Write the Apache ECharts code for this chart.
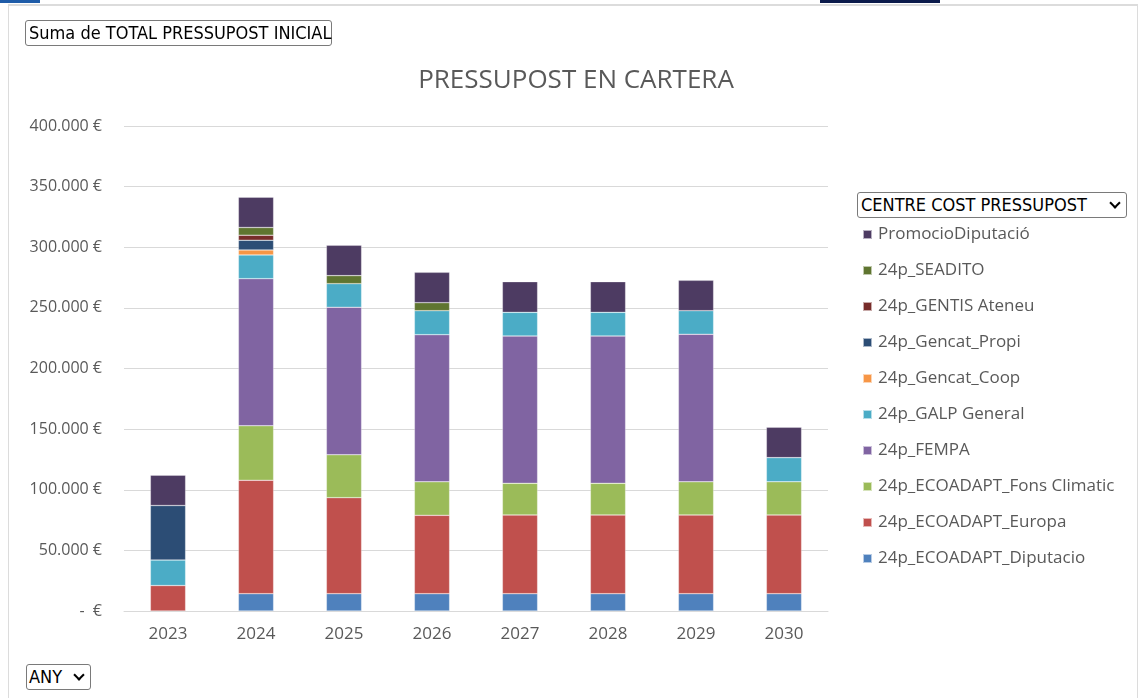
<!DOCTYPE html>
<html>
<head>
<meta charset="utf-8">
<title>PRESSUPOST EN CARTERA</title>
<script src="https://cdn.jsdelivr.net/npm/echarts@6/dist/echarts.min.js"></script>
<style>
  html, body { margin: 0; padding: 0; background: #fff; }
  body { width: 1142px; height: 698px; position: relative; overflow: hidden; font-family: "Open Sans", sans-serif; }
  .frame { position: absolute; left: 8px; top: 4px; width: 1130px; height: 700px; border: 1px solid #dcdcdc; border-top-width: 2px; box-sizing: border-box; }
  .bar-blue { position: absolute; left: 0; top: 0; width: 40px; height: 3px; background: #1f5ca8; }
  .bar-navy { position: absolute; left: 820px; top: 0; width: 120px; height: 3px; background: #0b1a4b; }
  #chart { position: absolute; left: 0; top: 0; width: 1142px; height: 698px; }
  .box { position: absolute; border: 1px solid #7a7a7a; border-radius: 3px; background: #fff; color: #000; box-sizing: border-box; white-space: nowrap;
         font-family: 'Liberation Sans Narrow', 'DejaVu Sans Condensed', 'DejaVu Sans'; font-stretch: condensed; font-size: 18px; line-height: 24px; }
  .box .chev { position: absolute; right: 7px; width: 6px; height: 6px; border-right: 2px solid #000; border-bottom: 2px solid #000; transform: rotate(45deg); top: 6px; }
</style>
</head>
<body>
<div class="frame"></div>
<div class="bar-blue"></div>
<div class="bar-navy"></div>
<div id="chart"></div>
<div class="box" style="left:25px;top:20px;width:307px;height:26px;padding-left:3px;">Suma de TOTAL PRESSUPOST INICIAL</div>
<div class="box" style="left:857px;top:192px;width:270px;height:26px;padding-left:3px;">CENTRE COST PRESSUPOST<span class="chev"></span></div>
<div class="box" style="left:26px;top:664px;width:65px;height:26px;padding-left:2px;">ANY<span class="chev"></span></div>
<script>
var years = ['2023', '2024', '2025', '2026', '2027', '2028', '2029', '2030'];

// bottom to top
var seriesNames = [
  '24p_ECOADAPT_Diputacio',
  '24p_ECOADAPT_Europa',
  '24p_ECOADAPT_Fons Climatic',
  '24p_FEMPA',
  '24p_GALP General',
  '24p_Gencat_Coop',
  '24p_Gencat_Propi',
  '24p_GENTIS Ateneu',
  '24p_SEADITO',
  'PromocioDiputació'
];
var seriesColors = ['#4f81bd', '#c0504d', '#9bbb59', '#8064a2', '#4bacc6', '#f79646', '#2c4d75', '#772c2a', '#5f7530', '#4d3b62'];

var diputacio    = [0,     14300, 14300, 14300, 14300, 14300, 14300, 14300];
var europa       = [21000, 93500, 79200, 64600, 64900, 64900, 64900, 64900];
var fonsClimatic = [0,     45000, 35400, 27700, 26100, 26100, 27400, 27400];
var fempa        = [0,    121300,121600,121300,121500,121500,121600, 0];
var galpGeneral  = [21000, 19600, 19500, 19800, 19500, 19500, 19500, 19900];
var gencatCoop   = [0,      4100, 0,     0,     0,     0,     0,     0];
var gencatPropi  = [45000,  8000, 0,     0,     0,     0,     0,     0];
var gentis       = [0,      4200, 0,     0,     0,     0,     0,     0];
var seadito      = [0,      6300,  6600,  6600, 0,     0,     0,     0];
var promocio     = [25000, 25000, 25000, 25000, 25300, 25300, 25000, 25000];

var seriesData = [diputacio, europa, fonsClimatic, fempa, galpGeneral, gencatCoop, gencatPropi, gentis, seadito, promocio];

function euro(v) {
  if (v === 0) return '-  €';
  return String(v).replace(/\B(?=(\d{3})+(?!\d))/g, '.') + ' €';
}

var chart = echarts.init(document.getElementById('chart'));
var series = [];
for (var i = 0; i < seriesNames.length; i++) {
  series.push({
    name: seriesNames[i],
    type: 'bar',
    stack: 'total',
    barWidth: '40%',
    data: seriesData[i].map(function (v) { return v === 0 ? null : v; }),
    itemStyle: { color: seriesColors[i], borderColor: 'rgba(255,255,255,0.6)', borderWidth: 0.5 }
  });
}

chart.setOption({
  animation: false,
  textStyle: { fontFamily: 'Open Sans' },
  title: {
    text: 'PRESSUPOST EN CARTERA',
    left: 571,
    top: 63,
    textAlign: 'center',
    textStyle: { fontSize: 26, fontWeight: 'normal', color: '#595959', fontFamily: 'Open Sans' }
  },
  legend: {
    orient: 'vertical',
    left: 857,
    top: 221,
    itemWidth: 9,
    itemHeight: 9,
    itemGap: 19,
    icon: 'rect',
    data: seriesNames.slice().reverse(),
    textStyle: { fontSize: 17, color: '#595959', padding: [0, 0, 0, 1] }
  },
  grid: { left: 124, right: 314, top: 126, bottom: 87 },
  xAxis: {
    type: 'category',
    data: years,
    axisTick: { show: false },
    axisLine: { lineStyle: { color: '#d9d9d9' } },
    axisLabel: { fontSize: 17, color: '#595959', margin: 15 }
  },
  yAxis: {
    type: 'value',
    min: 0,
    max: 400000,
    interval: 50000,
    axisLabel: { fontSize: 16, color: '#595959', margin: 22, formatter: euro },
    splitLine: { lineStyle: { color: '#d9d9d9', width: 1 } }
  },
  series: series
});
</script>
</body>
</html>
